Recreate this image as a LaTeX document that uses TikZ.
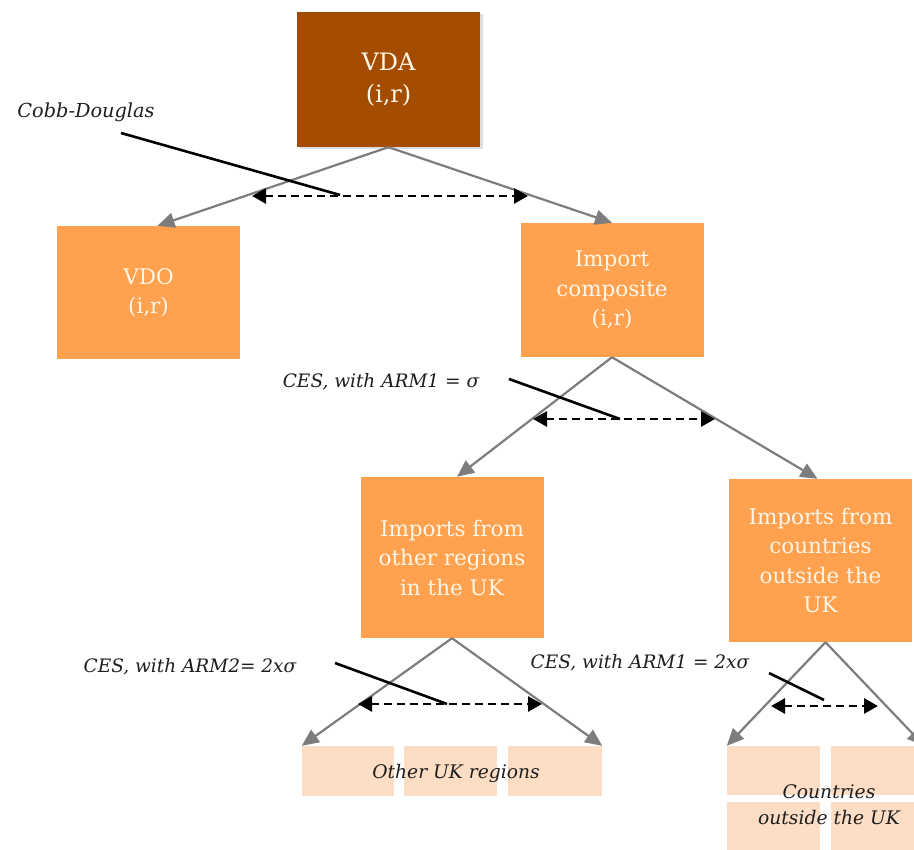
\documentclass[tikz,border=0pt]{standalone}
\usepackage{fontspec}
\setmainfont{DejaVu Serif}
\usetikzlibrary{arrows.meta,shadows,calc}
\definecolor{vdabrown}{RGB}{164,76,0}
\definecolor{boxorange}{RGB}{255,161,78}
\definecolor{lightbox}{RGB}{253,222,196}
\definecolor{boxtext}{RGB}{255,246,232}
\definecolor{flowgray}{RGB}{125,125,125}
\definecolor{labeltext}{RGB}{30,30,30}
\begin{document}
\begin{tikzpicture}[x=1pt,y=-1pt,
 mainbox/.style={fill=boxorange, text=boxtext, minimum width=183pt, inner sep=0pt, align=center, font=\fontsize{21.5}{29.5}\selectfont},
 topbox/.style={mainbox, fill=vdabrown, font=\fontsize{24}{32}\selectfont, drop shadow={shadow xshift=2.5pt, shadow yshift=-2.5pt, opacity=0.22, fill=black!60}},
 leafbox/.style={fill=lightbox, inner sep=0pt},
 flow/.style={draw=flowgray, line width=2.2pt, -{Triangle[length=17pt,width=15pt]}},
 choice/.style={draw=black, line width=2.8pt, dash pattern=on 8pt off 5pt, {Triangle[length=14pt,width=15pt]}-{Triangle[length=14pt,width=15pt]}},
 pointer/.style={draw=black, line width=2.6pt},
 note/.style={text=labeltext, font=\itshape\fontsize{18.5}{22}\selectfont, inner sep=0pt},
 leaftext/.style={text=labeltext, font=\itshape\fontsize{18.7}{26}\selectfont, inner sep=0pt, align=center}
]
\clip (0,0) rectangle (914,850);
\fill[white] (0,0) rectangle (914,850);

% main boxes
\node[topbox, minimum height=135pt] (vda) at (388.5,79.5) {VDA\\(i,r)};
\node[mainbox, minimum height=133pt] (vdo) at (148.5,292.5) {VDO\\(i,r)};
\node[mainbox, minimum height=134pt] (ic) at (612,290) {Import\\composite\\(i,r)};
\node[mainbox, minimum height=161pt] (io) at (452,557.5) {Imports from\\other regions\\in the UK};
\node[mainbox, minimum height=163pt] (ico) at (820.5,560.5) {Imports from\\countries\\outside the\\UK};

% leaf boxes
\node[leafbox, minimum width=92pt, minimum height=50pt] (uk1) at (348,771) {};
\node[leafbox, minimum width=93pt, minimum height=50pt] (uk2) at (450.5,771) {};
\node[leafbox, minimum width=94pt, minimum height=50pt] (uk3) at (555,771) {};
\node[leaftext] (uktext) at (456,773) {Other UK regions};

\node[leafbox, minimum width=93pt, minimum height=49pt] (c1) at (773.5,770.5) {};
\node[leafbox, minimum width=93pt, minimum height=49pt] (c2) at (877.5,770.5) {};
\node[leafbox, minimum width=93pt, minimum height=49pt] (c3) at (773.5,826.5) {};
\node[leafbox, minimum width=93pt, minimum height=49pt] (c4) at (877.5,826.5) {};
\node[leaftext] (ctext) at (829,805) {Countries\\outside the UK};

% flows
\draw[flow] (vda.south) -- ([xshift=9pt]vdo.north);
\draw[flow] (vda.south) -- (ic.north);
\draw[flow] (ic.south) -- ([xshift=5pt]io.north);
\draw[flow] (ic.south) -- ([xshift=-3pt]ico.north);
\draw[flow] (io.south) -- (uk1.north west);
\draw[flow] (io.south) -- (uk3.north east);
\draw[flow] ([xshift=5pt]ico.south) -- (c1.north west);
\draw[flow] ([xshift=5pt]ico.south) -- (c2.north east);

% labels
\node[note, font=\itshape\fontsize{19.3}{22}\selectfont] (cd) at (86,112) {Cobb-Douglas};
\node[note] (ces1) at (381,382) {CES, with ARM1 = σ};
\node[note] (ces2) at (190,667) {CES, with ARM2= 2xσ};
\node[note] (ces3) at (640,663) {CES, with ARM1 = 2xσ};

% substitution arrows
\coordinate (d1l) at (252,196); \coordinate (d1r) at (528,196);
\coordinate (d2l) at (533,419); \coordinate (d2r) at (715,419);
\coordinate (d3l) at (358,704); \coordinate (d3r) at (542,704);
\coordinate (d4l) at (771,706); \coordinate (d4r) at (878,706);
\draw[choice] (d1l) -- (d1r);
\draw[choice] (d2l) -- (d2r);
\draw[choice] (d3l) -- (d3r);
\draw[choice] (d4l) -- (d4r);

% pointers
\coordinate (p1s) at (121,133); \coordinate (p1e) at (340,195);
\coordinate (p2s) at (509,379); \coordinate (p2e) at (620,419);
\coordinate (p3s) at (335,663); \coordinate (p3e) at (447,704);
\coordinate (p4s) at (769,673); \coordinate (p4e) at (824,700);
\draw[pointer] (p1s) -- (p1e);
\draw[pointer] (p2s) -- (p2e);
\draw[pointer] (p3s) -- (p3e);
\draw[pointer] (p4s) -- (p4e);
\end{tikzpicture}
\end{document}
